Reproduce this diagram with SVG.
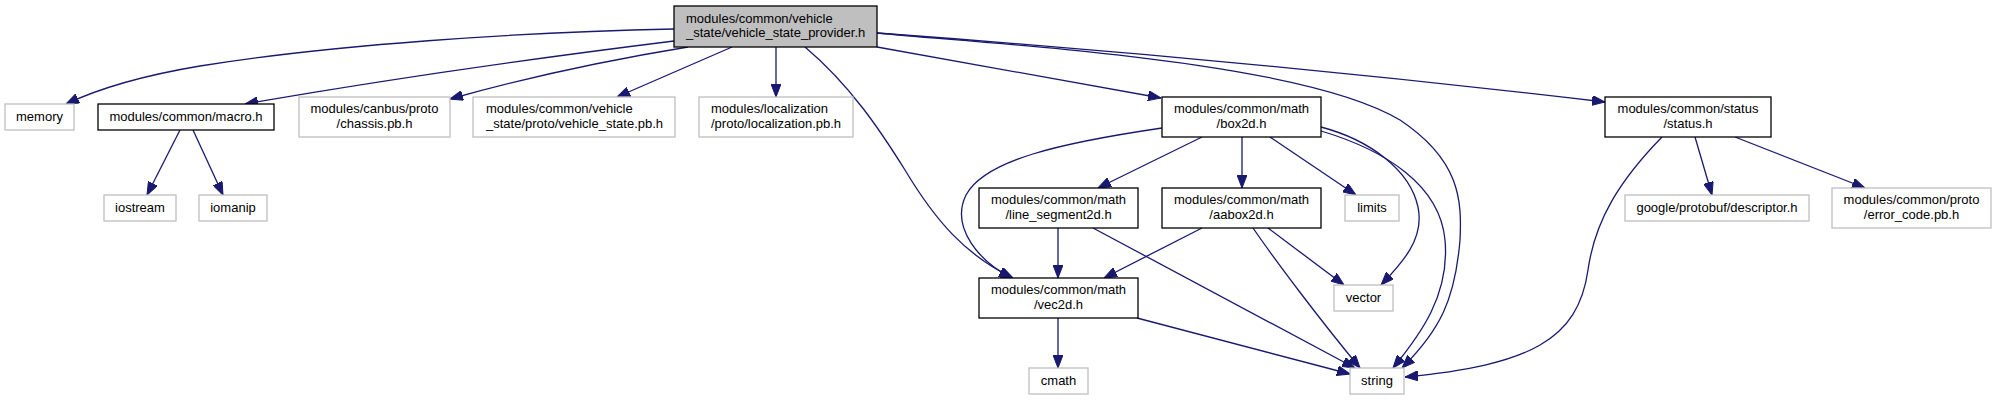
<svg xmlns="http://www.w3.org/2000/svg" width="1996" height="400" viewBox="0 0 1996 400">
<style>
.doc rect{fill:#ffffff;stroke:#000000;stroke-width:1.3}
.undoc rect{fill:#ffffff;stroke:#bfbfbf;stroke-width:1.3}
.main rect{fill:#bfbfbf;stroke:#000000;stroke-width:1.3}
text{font-family:"Liberation Sans",Helvetica,Arial,sans-serif;font-size:13px;fill:#000000}
.c{text-anchor:middle}
.edges path{fill:none;stroke:#191970;stroke-width:1.3;marker-end:url(#arr)}
</style>
<defs>
<marker id="arr" viewBox="0 0 13 10" refX="13" refY="5" markerWidth="13" markerHeight="10" markerUnits="userSpaceOnUse" orient="auto">
<path d="M0,0 L13,5 L0,10 z" fill="#191970" stroke="#191970" stroke-width="1"/>
</marker>
</defs>
<rect x="0" y="0" width="1996" height="400" fill="#ffffff"/>
<g class="edges" id="edges">
<path d="M674,29 C520,32 330,45 200,66 C140,76 100,88 66,104"/>
<path d="M674,41 Q440,70 245,104"/>
<path d="M688,47 Q560,68 450,99"/>
<path d="M732,47 L617,97"/>
<path d="M776,47 L776,97"/>
<path d="M805,47 C850,85 880,130 905,170 C935,220 965,255 1013,278"/>
<path d="M877,47 L1161,98"/>
<path d="M877,33 C1000,45 1300,60 1400,120 C1460,160 1462,200 1460,240 C1455,300 1440,330 1402,368"/>
<path d="M877,33 Q1250,60 1605,102"/>
<path d="M180,130 L147,195"/>
<path d="M193,130 L223,195"/>
<path d="M1202,137 L1098,188"/>
<path d="M1242,137 L1242,188"/>
<path d="M1270,137 L1356,195"/>
<path d="M1162,128 C1060,143 985,160 966,195 C950,228 980,262 1012,278"/>
<path d="M1321,127 C1370,140 1410,170 1418,207 C1425,240 1400,265 1381,285"/>
<path d="M1321,131 C1385,150 1440,185 1445,240 C1450,295 1420,335 1393,368"/>
<path d="M1202,228 L1104,278"/>
<path d="M1268,228 L1344,285"/>
<path d="M1253,228 C1275,260 1320,320 1360,368"/>
<path d="M1058,228 L1058,278"/>
<path d="M1093,228 L1355,368"/>
<path d="M1058,318 L1058,368"/>
<path d="M1137,318 L1350,374"/>
<path d="M1662,137 C1620,180 1595,220 1588,270 C1578,340 1530,365 1405,377"/>
<path d="M1695,137 L1712,195"/>
<path d="M1735,137 L1865,188"/>
</g>
<g id="node_main" class="main"><rect x="674" y="6" width="203" height="41"/><text x="686" y="22.5">modules/common/vehicle</text><text x="686" y="37">_state/vehicle_state_provider.h</text></g>
<g id="node_memory" class="undoc"><rect x="5" y="104" width="69" height="26"/><text class="c" x="39.5" y="121">memory</text></g>
<g id="node_macro" class="doc"><rect x="98" y="104" width="176" height="26"/><text class="c" x="186" y="121">modules/common/macro.h</text></g>
<g id="node_chassis" class="undoc"><rect x="299" y="97" width="151" height="40"/><text class="c" x="374.5" y="113">modules/canbus/proto</text><text class="c" x="374.5" y="128">/chassis.pb.h</text></g>
<g id="node_vstate" class="undoc"><rect x="473" y="97" width="202" height="40"/><text x="486" y="113">modules/common/vehicle</text><text x="486" y="128">_state/proto/vehicle_state.pb.h</text></g>
<g id="node_localization" class="undoc"><rect x="699" y="97" width="154" height="40"/><text x="711" y="113">modules/localization</text><text x="711" y="128">/proto/localization.pb.h</text></g>
<g id="node_box2d" class="doc"><rect x="1162" y="97" width="159" height="40"/><text class="c" x="1241.5" y="113">modules/common/math</text><text class="c" x="1241.5" y="128">/box2d.h</text></g>
<g id="node_status" class="doc"><rect x="1605" y="97" width="166" height="40"/><text class="c" x="1688" y="113">modules/common/status</text><text class="c" x="1688" y="128">/status.h</text></g>
<g id="node_iostream" class="undoc"><rect x="104" y="195" width="72" height="26"/><text class="c" x="140" y="212">iostream</text></g>
<g id="node_iomanip" class="undoc"><rect x="199" y="195" width="68" height="26"/><text class="c" x="233" y="212">iomanip</text></g>
<g id="node_line_segment2d" class="doc"><rect x="979" y="188" width="159" height="40"/><text class="c" x="1058.5" y="204">modules/common/math</text><text class="c" x="1058.5" y="219">/line_segment2d.h</text></g>
<g id="node_aabox2d" class="doc"><rect x="1162" y="188" width="159" height="40"/><text class="c" x="1241.5" y="204">modules/common/math</text><text class="c" x="1241.5" y="219">/aabox2d.h</text></g>
<g id="node_limits" class="undoc"><rect x="1345" y="195" width="54" height="26"/><text class="c" x="1372" y="212">limits</text></g>
<g id="node_descriptor" class="undoc"><rect x="1625" y="195" width="184" height="26"/><text class="c" x="1717" y="212">google/protobuf/descriptor.h</text></g>
<g id="node_error_code" class="undoc"><rect x="1832" y="188" width="159" height="40"/><text class="c" x="1911.5" y="204">modules/common/proto</text><text class="c" x="1911.5" y="219">/error_code.pb.h</text></g>
<g id="node_vec2d" class="doc"><rect x="979" y="278" width="159" height="40"/><text class="c" x="1058.5" y="294">modules/common/math</text><text class="c" x="1058.5" y="309">/vec2d.h</text></g>
<g id="node_vector" class="undoc"><rect x="1334" y="285" width="59" height="26"/><text class="c" x="1363.5" y="302">vector</text></g>
<g id="node_cmath" class="undoc"><rect x="1029" y="368" width="59" height="26"/><text class="c" x="1058.5" y="385">cmath</text></g>
<g id="node_string" class="undoc"><rect x="1350" y="368" width="54" height="26"/><text class="c" x="1377" y="385">string</text></g>
</svg>
